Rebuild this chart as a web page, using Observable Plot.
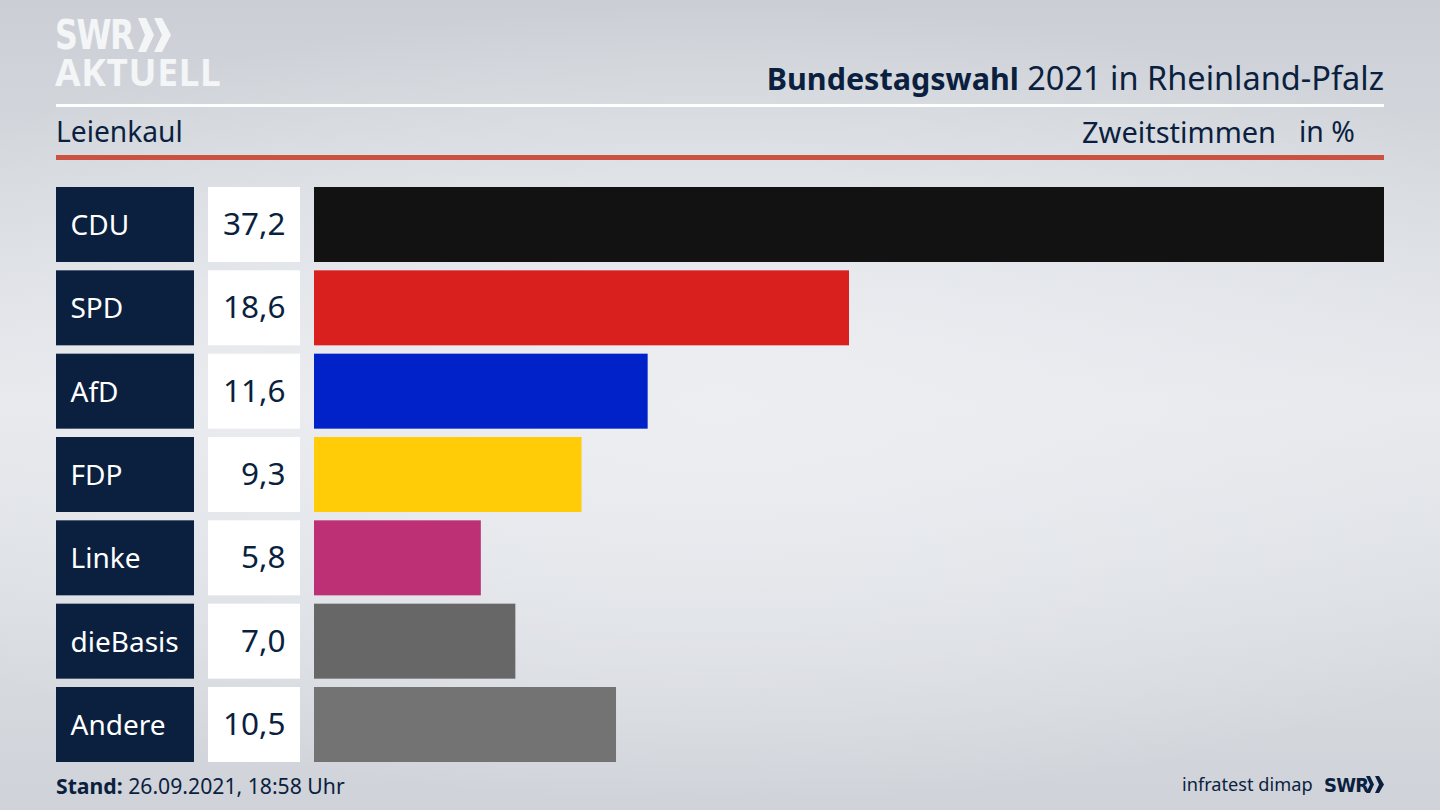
<!DOCTYPE html>
<html lang="de">
<head>
<meta charset="utf-8">
<script src="https://cdn.jsdelivr.net/npm/d3@7"></script>
<script src="https://cdn.jsdelivr.net/npm/@observablehq/plot@0.6"></script>
<style>
  html, body { margin: 0; padding: 0; }
  body {
    width: 1440px; height: 810px; position: relative; overflow: hidden;
    font-family: "Noto Sans", sans-serif; color: #0b1f3f;
    background: radial-gradient(ellipse 1000px 400px at 50% 50%, rgba(236,238,242,1) 0%, rgba(236,238,242,0) 100%),
                linear-gradient(180deg, #cbcfd5 0%, #d9dce1 28%, #e6e8ec 50%, #dcdfe3 72%, #cfd2d8 100%);
  }
  .abs { position: absolute; white-space: nowrap; line-height: 1; }
  #rows { position: absolute; left: 56px; top: 187px; display: flex; }
  #rows svg { display: block; background: none; overflow: visible; }
  #col-party { width: 138px; margin-right: 14px; }
  #col-value { width: 92px; margin-right: 14px; }
  #col-bars { width: 1070px; }
</style>
</head>
<body>
<div class="abs" style="left:55px;top:19px;font:700 41px/0.8 'DejaVu Sans Condensed';color:#f4f5f7;letter-spacing:-1.6px;transform:scaleX(0.86);transform-origin:left">SWR</div>
<svg class="abs" style="left:138px;top:18px" width="33" height="34"><path d="M0 0h8l8 17-8 17H0l7-17zM16 0h8l9 17-9 17h-8l8-17z" fill="#f4f5f7"/></svg>
<div class="abs" style="left:55px;top:56px;font:700 37px/0.84 'Noto Sans';color:#f4f5f7;letter-spacing:0.7px">AKTUELL</div>

<div class="abs" style="right:56px;top:62px;font-size:32.5px"><b style="font-size:30.5px">Bundestagswahl</b> 2021 in Rheinland-Pfalz</div>
<div class="abs" style="left:56px;top:104px;width:1328px;height:3px;background:#fff"></div>
<div class="abs" style="left:56px;top:117px;font-size:28.2px">Leienkaul</div>
<div class="abs" style="left:1082px;top:117px;font-size:29px">Zweitstimmen</div>
<div class="abs" style="left:1299px;top:117px;font-size:28.4px">in %</div>
<div class="abs" style="left:56px;top:155px;width:1328px;height:5px;background:#cb5140"></div>

<div id="rows">
  <div id="col-party"></div>
  <div id="col-value"></div>
  <div id="col-bars"></div>
</div>

<div class="abs" style="left:56px;top:775px;font-size:21.2px"><b>Stand:</b> 26.09.2021, 18:58 Uhr</div>
<div class="abs" style="left:1182px;top:775px;font-size:18.2px">infratest dimap</div>
<div class="abs" style="left:1324px;top:775px;font:700 20px/1 'DejaVu Sans Condensed';letter-spacing:-0.8px">SWR</div>
<svg class="abs" style="left:1366px;top:776px" width="18" height="17"><path d="M0 0h4l4 8.5-4 8.5H0l4-8.5zM9 0h4l5 8.5-5 8.5H9l4-8.5z" fill="#0b1f3f"/></svg>

<script>
const parties = ['CDU', 'SPD', 'AfD', 'FDP', 'Linke', 'dieBasis', 'Andere']
const shares = [37.2, 18.6, 11.6, 9.3, 5.8, 7.0, 10.5]
const shareLabels = ['37,2', '18,6', '11,6', '9,3', '5,8', '7,0', '10,5']
const partyColors = ['#121212', '#d9201f', '#0022c8', '#ffcc07', '#bd3075', '#676767', '#737374']

const data = parties.map((party, i) => ({party, share: shares[i], label: shareLabels[i], color: partyColors[i]}))

const navy = '#0b1f3f'

// all three columns share the same row layout
const base = {
  height: 575,
  marginTop: 0, marginRight: 0, marginBottom: 0, marginLeft: 0,
  y: {domain: parties, paddingInner: 0.1, paddingOuter: 0, round: false, axis: null},
  style: {background: 'none', fontFamily: '"Noto Sans", sans-serif'},
}

let partyChart = Plot.plot({
  ...base,
  width: 138,
  marks: [
    Plot.cell(data, {y: 'party', fill: navy}),
    Plot.text(data, {y: 'party', text: 'party', frameAnchor: 'left', dx: 14, dy: 1, fill: '#fff', fontSize: 28}),
  ],
})

let valueChart = Plot.plot({
  ...base,
  width: 92,
  marks: [
    Plot.cell(data, {y: 'party', fill: '#fff'}),
    Plot.text(data, {y: 'party', text: 'label', frameAnchor: 'right', dx: -15, fill: navy, fontSize: 31.5}),
  ],
})

let barChart = Plot.plot({
  ...base,
  width: 1070,
  x: {domain: [0, 37.2], axis: null},
  marks: [
    Plot.barX(data, {x: 'share', y: 'party', fill: 'color'}),
  ],
})

d3.select('#col-party').append(() => partyChart)
d3.select('#col-value').append(() => valueChart)
d3.select('#col-bars').append(() => barChart)
</script>
</body>
</html>
